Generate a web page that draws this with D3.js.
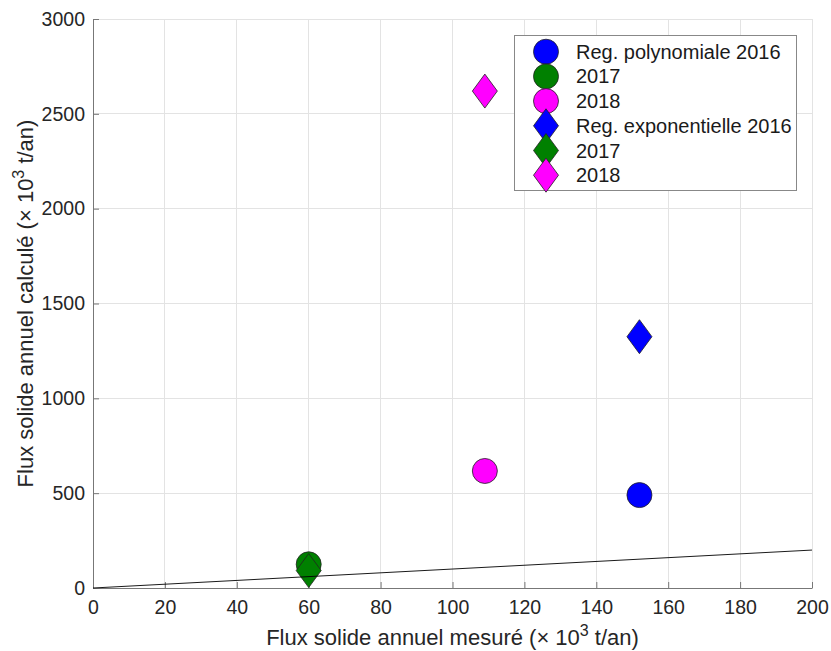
<!DOCTYPE html>
<html><head><meta charset="utf-8">
<script src="https://cdn.jsdelivr.net/npm/d3@7"></script>
<style>body{margin:0;background:#fff}svg{display:block}text{font-family:"Liberation Sans",Arial,sans-serif}</style>
</head><body>
<svg id="c" width="831" height="651"></svg>
<script>
// Data
const seriesNames = ["Reg. polynomiale 2016","2017","2018","Reg. exponentielle 2016","2017","2018"];
const seriesShapes = ["circle","circle","circle","diamond","diamond","diamond"];
const seriesColors = ["#0000ff","#008000","#ff00ff","#0000ff","#008000","#ff00ff"];
const measured = [152, 60, 109, 152, 60, 109];
const computed = [490, 125, 617, 1325, 92, 2620];
const xTicks = [0,20,40,60,80,100,120,140,160,180,200];
const yTicks = [0,500,1000,1500,2000,2500,3000];
const refLine = [[0,0],[200,200]];

const svg = d3.select("#c");
const L=93, R=812, T=19, B=588;
const x = d3.scaleLinear().domain([0,200]).range([L,R]);
const y = d3.scaleLinear().domain([0,3000]).range([B,T]);
const font = 19.5, labelFont = 22, legendFont = 20;

// grid
svg.append("g").selectAll("line").data(xTicks).join("line")
  .attr("x1",d=>x(d)).attr("x2",d=>x(d)).attr("y1",T).attr("y2",B)
  .attr("stroke","#e3e3e3").attr("stroke-width",1).attr("shape-rendering","crispEdges");
svg.append("g").selectAll("line").data(yTicks).join("line")
  .attr("y1",d=>y(d)).attr("y2",d=>y(d)).attr("x1",L).attr("x2",R)
  .attr("stroke","#e3e3e3").attr("stroke-width",1).attr("shape-rendering","crispEdges");

// axes
const ax = svg.append("g").attr("transform",`translate(0,${B})`)
  .call(d3.axisBottom(x).tickValues(xTicks).tickFormat(d3.format("d")).tickSizeInner(-6).tickSizeOuter(0).tickPadding(12));
const ay = svg.append("g").attr("transform",`translate(${L},0)`)
  .call(d3.axisLeft(y).tickValues(yTicks).tickFormat(d3.format("d")).tickSizeInner(-6).tickSizeOuter(0).tickPadding(8));
[ax,ay].forEach(g=>{
  g.select(".domain").attr("stroke","#777");
  g.selectAll(".tick line").attr("stroke","#777");
  g.selectAll(".tick text").attr("fill","#262626").style("font-size",font+"px")
   .style("font-family","'Liberation Sans',Arial,sans-serif");
});
ax.selectAll(".tick text").attr("dy","0.71em");

// markers
const sym = {circle: d3.symbol().type(d3.symbolCircle).size(Math.PI*12.5*12.5)};
function diamondPath(hw,hh){return `M0,${-hh}L${hw},0L0,${hh}L${-hw},0Z`;}
function shapePath(s){return s==="circle"?sym.circle():diamondPath(12.5,17);}
const pts = measured.map((m,i)=>({m, c:computed[i], s:seriesShapes[i], col:seriesColors[i]}));
svg.append("g").selectAll("path").data(pts).join("path")
  .attr("d",d=>shapePath(d.s))
  .attr("transform",d=>`translate(${x(d.m)},${y(d.c)})`)
  .attr("fill",d=>d.col).attr("stroke","#222").attr("stroke-width",0.8);

// reference line
svg.append("path").datum(refLine)
  .attr("d",d3.line().x(d=>x(d[0])).y(d=>y(d[1])))
  .attr("stroke","#000").attr("stroke-width",0.9).attr("fill","none");

// axis labels
const xl = svg.append("text").attr("x",(L+R)/2).attr("y",645).attr("text-anchor","middle")
  .attr("fill","#262626").style("font-size",labelFont+"px");
xl.append("tspan").text("Flux solide annuel mesuré (× 10");
xl.append("tspan").attr("dy",-9).style("font-size","16px").text("3");
xl.append("tspan").attr("dy",9).text(" t/an)");

const yl = svg.append("text").attr("transform",`translate(33,${(T+B)/2}) rotate(-90)`)
  .attr("text-anchor","middle").attr("fill","#262626").style("font-size",labelFont+"px");
yl.append("tspan").text("Flux solide annuel calculé (× 10");
yl.append("tspan").attr("dy",-9).style("font-size","16px").text("3");
yl.append("tspan").attr("dy",9).text(" t/an)");

// legend
const lg = svg.append("g");
lg.append("rect").attr("x",514.5).attr("y",35.5).attr("width",282).attr("height",155)
  .attr("fill","#fff").attr("stroke","#888").attr("stroke-width",1);
const rowY = i => 51.7 + i*24.7;
seriesNames.forEach((n,i)=>{
  lg.append("path").attr("d",shapePath(seriesShapes[i]))
    .attr("transform",`translate(546,${rowY(i)})`)
    .attr("fill",seriesColors[i]).attr("stroke","#222").attr("stroke-width",0.8);
  lg.append("text").attr("x",576).attr("y",rowY(i)).attr("dy","0.35em")
    .attr("fill","#1a1a1a").style("font-size",legendFont+"px").text(n);
});
</script>
</body></html>
